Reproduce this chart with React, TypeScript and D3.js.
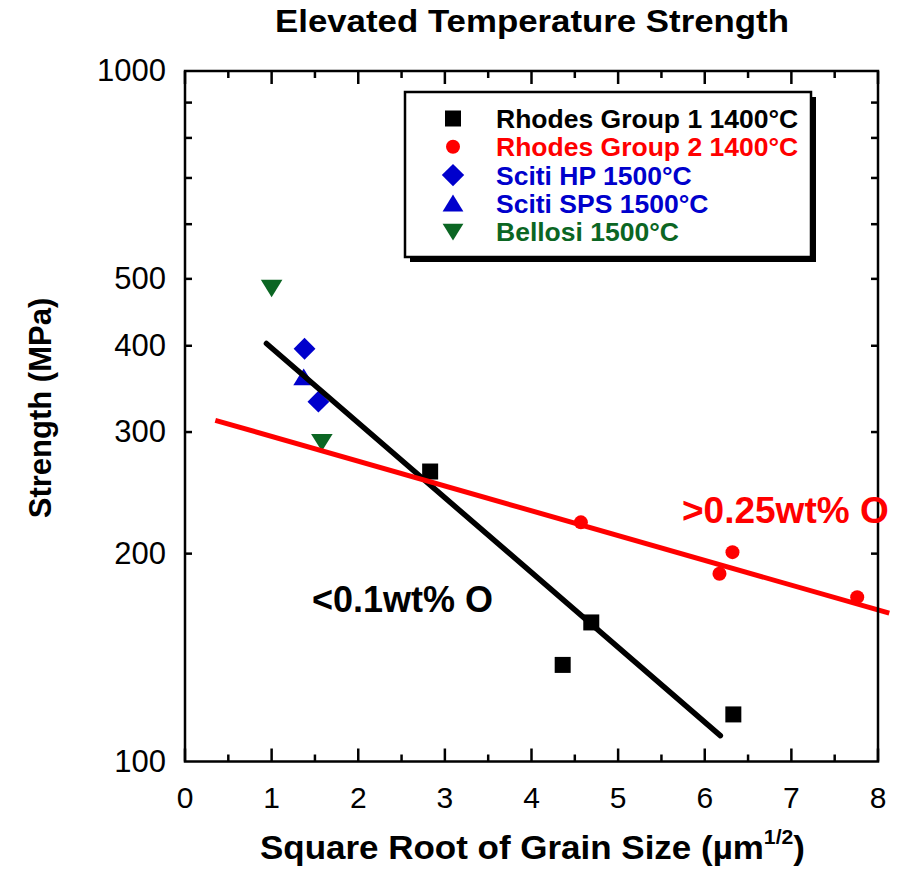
import React, { useRef, useEffect } from 'react';
import * as d3 from 'd3';

// Rhodes Group 1, 1400°C (<0.1 wt% O)
const group1X = [2.83, 4.36, 4.69, 6.33];
const group1Y = [263, 138, 159, 117];
// Rhodes Group 2, 1400°C (>0.25 wt% O)
const group2X = [4.57, 6.17, 6.32, 7.76];
const group2Y = [222, 187, 201, 173];
// Sciti HP 1500°C
const scitiHpX = [1.38, 1.54];
const scitiHpY = [396, 332];
// Sciti SPS 1500°C
const scitiSpsX = [1.37];
const scitiSpsY = [360];
// Bellosi 1500°C
const bellosiX = [1.0, 1.58];
const bellosiY = [485, 290];

// trend lines (end points)
const lowOxX = [0.94, 6.18];
const lowOxY = [403, 109];
const highOxX = [0.35, 8.13];
const highOxY = [312, 164];

const xTicks = [0, 1, 2, 3, 4, 5, 6, 7, 8];
const xMinorTicks = [0.5, 1.5, 2.5, 3.5, 4.5, 5.5, 6.5, 7.5];
const yTickLabels = [100, 200, 300, 400, 500, 1000];
const yTicks = [200, 300, 400, 500, 600, 700, 800, 900];

const legendLabels = [
    'Rhodes Group 1 1400°C',
    'Rhodes Group 2 1400°C',
    'Sciti HP 1500°C',
    'Sciti SPS 1500°C',
    'Bellosi 1500°C',
];

const BLACK = '#000000';
const RED = '#ff0000';
const BLUE = '#0000cc';
const GREEN = '#0b6623';
const legendColors = [BLACK, RED, BLUE, BLUE, GREEN];
const legendShapes = ['square', 'circle', 'diamond', 'up', 'down'];

const FONT = '"Liberation Sans", Arial, Helvetica, sans-serif';

const symbolPath = (shape: string, s: number) => {
    if (shape === 'square') return `M${-s},${-s}H${s}V${s}H${-s}Z`;
    if (shape === 'circle') return d3.symbol(d3.symbolCircle, Math.PI * s * s)() as string;
    if (shape === 'diamond') return `M0,${-s * 1.4}L${s * 1.4},0L0,${s * 1.4}L${-s * 1.4},0Z`;
    if (shape === 'up') return `M0,${-s * 1.1}L${s * 1.3},${s * 1.0}L${-s * 1.3},${s * 1.0}Z`;
    return `M0,${s * 1.1}L${s * 1.3},${-s * 1.0}L${-s * 1.3},${-s * 1.0}Z`;
};

const App: React.FC = () => {
    const ref = useRef<SVGSVGElement>(null);
    const width = 898;
    const height = 881;

    useEffect(() => {
        if (!ref.current) return;
        const svg = d3.select(ref.current);
        svg.selectAll('*').remove();

        const x = d3.scaleLinear().domain([0, 8]).range([185, 878]);
        const y = d3.scaleLog().domain([100, 1000]).range([761.5, 71]);
        const [x0, x1] = x.range();
        const [y0, y1] = y.range();

        svg.append('rect').attr('width', width).attr('height', height).attr('fill', 'white');

        // title
        svg.append('text')
            .attr('x', 275).attr('y', 32)
            .attr('textLength', 514).attr('lengthAdjust', 'spacingAndGlyphs')
            .attr('font-family', FONT).attr('font-weight', 'bold').attr('font-size', 31)
            .text('Elevated Temperature Strength');

        // markers
        const series = [
            { xs: group1X, ys: group1Y, shape: 'square', color: BLACK, s: 8 },
            { xs: group2X, ys: group2Y, shape: 'circle', color: RED, s: 7 },
            { xs: scitiHpX, ys: scitiHpY, shape: 'diamond', color: BLUE, s: 7.8 },
            { xs: scitiSpsX, ys: scitiSpsY, shape: 'up', color: BLUE, s: 8 },
            { xs: bellosiX, ys: bellosiY, shape: 'down', color: GREEN, s: 8.3 },
        ];
        series.forEach(sr => {
            svg.append('g').selectAll('path')
                .data(sr.xs.map((v, i) => [v, sr.ys[i]]))
                .join('path')
                .attr('transform', d => `translate(${x(d[0])},${y(d[1])})`)
                .attr('d', symbolPath(sr.shape, sr.s))
                .attr('fill', sr.color);
        });

        // trend lines
        const line = d3.line<number[]>().x(d => x(d[0])).y(d => y(d[1]));
        svg.append('path')
            .attr('d', line(lowOxX.map((v, i) => [v, lowOxY[i]])))
            .attr('stroke', BLACK).attr('stroke-width', 5.5).attr('stroke-linecap', 'round').attr('fill', 'none');
        svg.append('path')
            .attr('d', line(highOxX.map((v, i) => [v, highOxY[i]])))
            .attr('stroke', RED).attr('stroke-width', 5).attr('fill', 'none');

        // frame
        svg.append('rect')
            .attr('x', x0).attr('y', y1).attr('width', x1 - x0).attr('height', y0 - y1)
            .attr('fill', 'none').attr('stroke', BLACK).attr('stroke-width', 2.5);

        const ticks = svg.append('g').attr('stroke', BLACK).attr('stroke-width', 2.5);
        xTicks.concat(xMinorTicks).forEach(t => {
            const len = xTicks.includes(t) ? 13 : 7;
            ticks.append('line').attr('x1', x(t)).attr('x2', x(t)).attr('y1', y0).attr('y2', y0 - len);
            ticks.append('line').attr('x1', x(t)).attr('x2', x(t)).attr('y1', y1).attr('y2', y1 + len);
        });
        yTicks.forEach(t => {
            ticks.append('line').attr('x1', x0).attr('x2', x0 + 7).attr('y1', y(t)).attr('y2', y(t));
            ticks.append('line').attr('x1', x1).attr('x2', x1 - 7).attr('y1', y(t)).attr('y2', y(t));
        });

        // tick labels
        svg.append('g').selectAll('text').data(xTicks).join('text')
            .attr('x', d => x(d)).attr('y', 808)
            .attr('text-anchor', 'middle')
            .attr('font-family', FONT).attr('font-size', 30)
            .text(d => d);
        svg.append('g').selectAll('text').data(yTickLabels).join('text')
            .attr('x', 166).attr('y', d => y(d) + 10)
            .attr('text-anchor', 'end')
            .attr('font-family', FONT).attr('font-size', 31)
            .text(d => d);

        // axis titles
        const xt = svg.append('text')
            .attr('x', 260).attr('y', 859)
            .attr('textLength', 545).attr('lengthAdjust', 'spacingAndGlyphs')
            .attr('font-family', FONT).attr('font-weight', 'bold').attr('font-size', 33);
        xt.append('tspan').text('Square Root of Grain Size (µm');
        xt.append('tspan').attr('dy', -15).attr('font-size', 20).text('1/2');
        xt.append('tspan').attr('dy', 15).text(')');

        svg.append('text')
            .attr('transform', 'translate(51,408) rotate(-90)')
            .attr('text-anchor', 'middle')
            .attr('font-family', FONT).attr('font-weight', 'bold').attr('font-size', 31)
            .text('Strength (MPa)');

        // annotations
        svg.append('text')
            .attr('x', 312).attr('y', 612)
            .attr('font-family', FONT).attr('font-weight', 'bold').attr('font-size', 36)
            .text('<0.1wt% O');
        svg.append('text')
            .attr('x', 682).attr('y', 523)
            .attr('fill', RED)
            .attr('font-family', FONT).attr('font-weight', 'bold').attr('font-size', 37)
            .text('>0.25wt% O');

        // legend
        const lg = svg.append('g');
        lg.append('rect').attr('x', 410).attr('y', 97).attr('width', 406).attr('height', 165).attr('fill', BLACK);
        lg.append('rect').attr('x', 405).attr('y', 92).attr('width', 406).attr('height', 165)
            .attr('fill', 'white').attr('stroke', BLACK).attr('stroke-width', 2.5);
        legendLabels.forEach((lab, i) => {
            const cy = 118.5 + i * 28.3;
            lg.append('path')
                .attr('transform', `translate(453,${cy})`)
                .attr('d', symbolPath(legendShapes[i], legendShapes[i] === 'circle' ? 7 : 8))
                .attr('fill', legendColors[i]);
            lg.append('text')
                .attr('x', 496).attr('y', cy + 9.5)
                .attr('fill', legendColors[i])
                .attr('font-family', FONT).attr('font-weight', 'bold').attr('font-size', 26.5)
                .text(lab);
        });
    }, []);

    return (
        <svg ref={ref} width={width} height={height} style={{ display: 'block', margin: -8 }}></svg>
    );
};

export default App;
